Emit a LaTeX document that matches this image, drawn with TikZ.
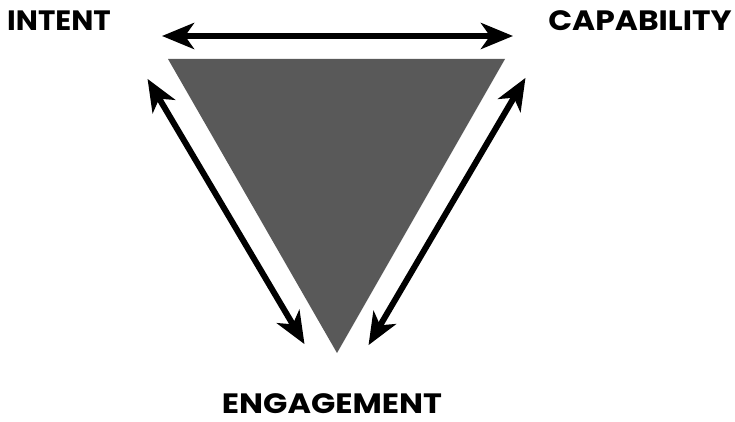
\documentclass[tikz,border=0pt]{standalone}
\usepackage{fontspec}
\setmainfont{Poppins}
\usetikzlibrary{arrows.meta}
\begin{document}
\begin{tikzpicture}[x=1pt,y=-1pt,
  lbl/.style={font=\bfseries\fontsize{28}{29}\selectfont, inner sep=0pt, anchor=center},
  dbl/.style={line width=6pt, {Stealth[length=32pt,width=26pt,inset=9pt]}-{Stealth[length=32pt,width=26pt,inset=9pt]}, shorten <=1pt, shorten >=1pt}]
\useasboundingbox (0,0) rectangle (735,422);
\fill[fill=white] (0,0) rectangle (735,422);
\fill[fill=black!65!white] (168,59) coordinate (tl) -- (505,59) coordinate (tr) -- (337,353) coordinate (bt) -- cycle;
\coordinate (a1) at (161,36);
\coordinate (a2) at (514,36);
\coordinate (b1) at (147,78);
\coordinate (b2) at (305,345);
\coordinate (c1) at (526,77);
\coordinate (c2) at (368,346);
\draw[dbl] (a1) -- (a2);
\draw[dbl] (b1) -- (b2);
\draw[dbl] (c1) -- (c2);
\node[lbl] (intent) at (59,21) {\scalebox{1.05}[1]{INTENT}};
\node[lbl] (capab) at (640,21) {\scalebox{1.12}[1]{CAPABILITY}};
\node[lbl] (engage) at (332,404) {\scalebox{1.14}[1]{ENGAGEMENT}};
\end{tikzpicture}
\end{document}
